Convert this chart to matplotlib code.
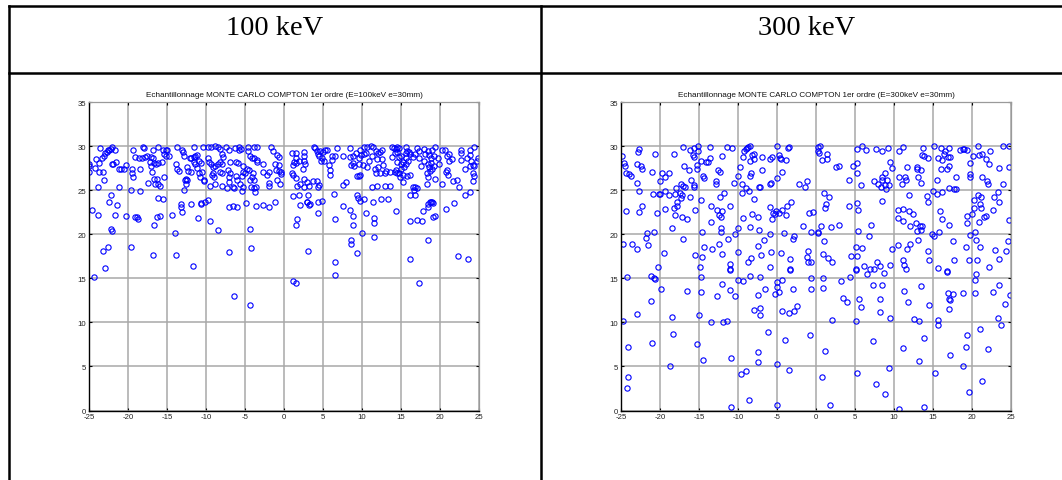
import numpy as np
import matplotlib
matplotlib.use('Agg')
from matplotlib import pyplot as plt

plt.rcParams['axes.unicode_minus'] = False

# points, (x, y) in data units
pts_100_band = [
    (-25.0, 28.0), (-25.0, 27.7), (-25.0, 27.1), (-24.1, 28.5), (-24.2, 27.5), (-23.7, 27.1),
    (-23.25, 27.1), (-23.7, 28.1), (-23.6, 29.8), (-23.3, 28.7), (-23.1, 28.9), (-22.9, 29.2),
    (-22.7, 29.3), (-22.6, 29.5), (-22.4, 29.55), (-22.2, 29.7), (-22.0, 29.9), (-21.7, 29.6),
    (-23.1, 26.15), (-23.8, 25.3), (-21.9, 28.0), (-21.6, 28.2), (-22.05, 28.0), (-21.2, 25.3),
    (-21.2, 27.35), (-20.9, 27.35), (-20.5, 27.4), (-20.3, 27.8), (-19.5, 27.35), (-19.5, 27.0),
    (-19.3, 26.5), (-19.6, 25.0), (-19.3, 29.6), (-19.1, 28.8), (-18.6, 28.6), (-18.2, 28.7),
    (-17.8, 28.8), (-17.6, 28.9), (-18.1, 29.85), (-17.9, 29.8), (-18.4, 27.4), (-18.4, 24.9),
    (-17.4, 25.8), (-16.75, 29.6), (-17.1, 28.8), (-16.8, 28.7), (-17.2, 28.2), (-16.7, 28.1),
    (-16.4, 28.0), (-16.1, 28.1), (-15.7, 28.2), (-16.1, 29.85), (-15.5, 29.6), (-15.1, 29.5),
    (-15.0, 29.6), (-15.4, 29.1), (-15.1, 28.9), (-14.7, 28.9), (-17.1, 27.7), (-16.9, 27.05),
    (-16.7, 26.3), (-16.3, 26.3), (-16.5, 25.7), (-16.1, 25.7), (-15.9, 25.5), (-15.4, 26.45),
    (-13.8, 28.0), (-13.7, 29.9), (-13.7, 27.35), (-13.5, 27.2), (-13.1, 29.55), (-12.9, 29.3),
    (-12.8, 28.9), (-12.5, 27.6), (-12.3, 27.2), (-11.9, 27.05), (-12.6, 26.3), (-12.5, 26.15),
    (-12.7, 26.1), (-12.8, 25.0), (-12.6, 25.7), (-12.05, 28.6), (-11.9, 28.6), (-11.6, 28.8),
    (-11.4, 28.9), (-11.1, 29.0), (-11.6, 28.2), (-11.6, 29.9), (-10.4, 29.9), (-11.4, 28.0),
    (-11.2, 27.5), (-10.9, 28.3), (-10.6, 28.1), (-10.9, 27.0), (-10.5, 27.05), (-10.8, 26.45),
    (-10.3, 26.2), (-10.25, 26.0), (-9.8, 29.9), (-9.3, 29.85), (-8.9, 30.0), (-8.5, 29.85),
    (-8.2, 29.7), (-9.7, 28.6), (-9.6, 28.2), (-9.3, 28.0), (-9.1, 27.6), (-8.8, 27.7),
    (-8.45, 27.96), (-8.2, 28.2), (-8.0, 28.0), (-9.2, 26.7), (-9.0, 26.5), (-9.5, 25.5),
    (-8.8, 25.7), (-9.1, 27.0), (-8.2, 27.05), (-7.95, 27.0), (-7.9, 25.5), (-7.35, 25.2),
    (-7.1, 25.9), (-6.9, 28.2), (-7.1, 29.55), (-7.9, 29.1), (-7.8, 28.8), (-7.5, 29.9),
    (-7.2, 27.3), (-6.9, 27.0), (-7.1, 26.5), (-6.6, 25.4), (-6.4, 25.2), (-5.4, 24.9),
    (-6.25, 29.8), (-5.8, 29.5), (-5.75, 29.85), (-5.55, 29.7), (-5.9, 28.1), (-6.1, 28.2),
    (-5.3, 27.7), (-4.8, 27.4), (-5.2, 27.1), (-5.0, 26.9), (-6.1, 26.6), (-6.0, 26.2),
    (-5.4, 26.6), (-5.7, 25.7), (-5.3, 25.4), (-4.6, 29.9), (-3.8, 29.85), (-3.4, 29.9),
    (-4.6, 29.4), (-4.4, 28.9), (-4.1, 28.7), (-3.9, 28.6), (-3.4, 28.4), (-3.4, 28.2),
    (-4.45, 27.3), (-4.0, 26.9), (-4.1, 26.5), (-4.35, 26.2), (-3.9, 26.1), (-4.2, 25.3),
    (-3.9, 25.25), (-3.6, 25.4), (-3.75, 24.8), (-2.7, 28.0), (-2.7, 27.1), (-2.2, 26.75),
    (-1.95, 27.1), (-1.9, 25.85), (-1.95, 25.5), (-1.7, 29.85), (-1.4, 29.4), (-0.95, 29.0),
    (-0.7, 28.8), (-1.2, 28.0), (-0.7, 27.9), (-1.0, 27.3), (-0.6, 27.2), (-0.4, 27.1),
    (-0.85, 26.2), (-0.5, 25.7), (-0.35, 26.8),
    (1.0, 29.2), (1.6, 29.2), (1.5, 28.7), (1.3, 28.2), (1.1, 27.9), (1.0, 27.0), (1.2, 26.75),
    (1.6, 28.1), (1.9, 28.3), (2.5, 29.3), (2.5, 28.9), (2.5, 28.3), (2.65, 28.0), (2.4, 27.4),
    (1.6, 26.4), (2.5, 26.3), (2.9, 25.9), (1.7, 25.5), (2.1, 25.7), (2.6, 25.4), (3.2, 25.5),
    (3.7, 26.0), (4.2, 26.0), (4.4, 25.4), (4.5, 25.55), (3.8, 29.85), (4.0, 29.8), (4.2, 29.4),
    (4.4, 29.1), (4.5, 28.9), (4.9, 28.6), (4.8, 28.3), (5.1, 28.3), (5.3, 29.5), (5.55, 29.5),
    (4.6, 29.4), (4.95, 29.3), (5.8, 27.9), (5.9, 27.3), (5.9, 26.7), (6.1, 28.9), (6.2, 28.4),
    (6.5, 28.9), (6.8, 29.8), (7.5, 28.9), (7.5, 25.6), (8.0, 25.9), (8.4, 29.8), (8.4, 28.8),
    (8.9, 28.9), (8.6, 27.9), (8.8, 28.1), (8.97, 27.7), (9.2, 29.2), (9.7, 29.6), (10.2, 29.9),
    (10.6, 29.9), (11.2, 29.96), (11.45, 29.9), (9.6, 28.6), (9.9, 29.0), (10.2, 29.1),
    (10.5, 29.25), (10.85, 28.3), (11.3, 28.9), (9.65, 27.96), (10.1, 27.8), (10.7, 27.6),
    (9.3, 26.6), (9.65, 26.6), (9.8, 26.7), (11.3, 25.4), (11.9, 25.5), (11.7, 27.4), (12.05, 27.6),
    (11.8, 27.0), (12.3, 26.9), (12.65, 27.8), (13.1, 27.2), (13.0, 26.9), (13.6, 27.05),
    (11.8, 29.4), (12.05, 29.2), (12.3, 29.3), (12.6, 29.55), (11.9, 28.5), (12.5, 28.5),
    (12.9, 25.5), (13.6, 25.5), (13.85, 29.85), (14.1, 29.8), (14.35, 29.7), (14.5, 29.85),
    (14.8, 29.8), (14.2, 29.25), (14.5, 29.3), (13.9, 28.8), (14.7, 28.8), (15.0, 28.9),
    (14.5, 28.2), (14.96, 27.96), (15.3, 28.2), (15.6, 27.96), (14.4, 27.3), (14.96, 27.4),
    (15.4, 27.6), (14.45, 26.9), (14.2, 27.1), (14.8, 27.0), (14.9, 26.45), (15.3, 26.7),
    (15.8, 26.6), (16.1, 26.75), (15.3, 25.9), (16.5, 25.3), (16.8, 25.4), (17.1, 25.2),
    (16.7, 25.0), (16.15, 24.5), (16.75, 24.4), (15.6, 29.9), (15.8, 29.4), (15.6, 29.2),
    (16.15, 29.1), (15.97, 29.3), (15.6, 28.6), (15.9, 28.3), (17.0, 29.8), (17.3, 29.4),
    (17.3, 28.7), (16.8, 29.1), (16.5, 28.8), (18.3, 25.7), (17.6, 27.7), (18.3, 27.0),
    (18.5, 26.5), (19.0, 27.4), (18.55, 27.6), (19.2, 27.7), (18.7, 27.2), (19.4, 26.3),
    (18.0, 29.7), (18.4, 29.4), (18.1, 29.1), (18.6, 29.0), (19.0, 29.55), (19.3, 29.85),
    (18.8, 28.6), (19.2, 28.9), (19.8, 28.7), (18.4, 28.0), (18.8, 28.1), (18.0, 28.3),
    (19.9, 27.96), (20.3, 29.5), (20.6, 29.5), (20.9, 28.9), (21.2, 29.1), (21.6, 28.5),
    (21.2, 28.3), (20.3, 25.7), (20.8, 27.05), (20.9, 27.3), (21.0, 26.7), (21.7, 26.0),
    (22.2, 26.1), (22.4, 25.3), (23.9, 24.8), (22.65, 29.5), (22.65, 29.2), (23.8, 29.6),
    (24.3, 29.9), (22.7, 28.4), (23.4, 28.7), (23.85, 29.0), (24.0, 28.3), (23.2, 27.4),
    (23.8, 27.7), (24.2, 27.9), (24.4, 27.7), (24.8, 28.3), (24.9, 28.6), (24.2, 27.0),
    (24.3, 26.6), (24.2, 26.0),
]
pts_100_low = [
    (-24.6, 22.7), (-24.4, 15.2), (-23.9, 22.2), (-22.5, 23.7), (-22.2, 24.5), (-22.6, 18.6),
    (-23.2, 18.1), (-23.0, 16.2), (-22.2, 20.6), (-22.05, 20.4), (-21.7, 22.15), (-21.45, 23.3),
    (-20.2, 22.1), (-19.6, 18.6), (-19.1, 22.0), (-18.9, 21.9), (-18.7, 21.7), (-16.1, 24.1),
    (-15.5, 23.96), (-16.7, 21.0), (-16.3, 21.9), (-15.9, 22.1), (-16.8, 17.6), (-13.25, 23.4),
    (-13.25, 23.1), (-13.1, 22.5), (-14.3, 22.2), (-14.0, 20.1), (-13.85, 17.6), (-11.7, 16.4),
    (-11.9, 23.4), (-10.7, 23.5), (-10.6, 23.4), (-11.0, 21.8), (-9.7, 23.9), (-10.1, 23.6),
    (-9.5, 21.5), (-8.4, 20.5), (-7.1, 23.1), (-6.0, 23.1), (-6.6, 23.2), (-7.1, 18.0),
    (-4.9, 23.5), (-3.6, 23.2), (-4.3, 20.6), (-4.2, 18.45), (-2.7, 23.3), (-1.2, 23.6),
    (-1.9, 23.1), (-6.4, 13.0), (-4.3, 12.0), (1.1, 14.7), (1.6, 14.5), (17.3, 14.5),
    (1.1, 24.3), (1.9, 24.5), (3.1, 24.5), (2.9, 23.7), (3.0, 23.6), (3.3, 23.4), (3.25, 23.3),
    (2.05, 23.3), (4.4, 23.7), (4.9, 23.8), (4.3, 22.45), (1.7, 21.7), (1.6, 21.0), (3.1, 18.15),
    (6.4, 24.6), (6.6, 21.7), (6.6, 16.8), (6.5, 15.4), (7.6, 23.2), (8.4, 22.75), (8.9, 22.1),
    (8.8, 21.0), (8.6, 19.4), (8.55, 18.9), (9.3, 17.9), (10.0, 20.1), (11.6, 19.7), (9.4, 24.4),
    (9.5, 24.1), (9.7, 23.8), (10.2, 24.0), (10.5, 22.45), (11.4, 23.6), (11.5, 21.85),
    (11.6, 21.3), (12.4, 24.0), (13.3, 24.0), (14.3, 22.6), (16.2, 21.5), (17.0, 21.6),
    (16.2, 17.2), (17.7, 21.5), (17.8, 22.6), (18.5, 23.05), (18.4, 23.4), (18.7, 23.6),
    (18.9, 23.7), (19.0, 23.6), (19.1, 23.5), (18.5, 19.35), (19.1, 21.9), (19.3, 22.1),
    (20.8, 22.9), (21.8, 23.5), (23.2, 24.4), (22.3, 17.5), (23.6, 17.2),
]

pts_300_top = [
    (-24.9, 28.9), (-24.65, 28.1), (-24.5, 27.7), (-24.3, 26.9), (-24.0, 26.8), (-23.7, 26.6),
    (-22.7, 29.7), (-22.8, 29.3), (-22.9, 28.0), (-22.4, 27.7), (-22.35, 27.4), (-23.0, 25.85),
    (-22.7, 24.9), (-20.6, 29.1), (-21.0, 27.1), (-20.0, 26.0), (-19.7, 26.9), (-19.3, 26.5),
    (-18.9, 26.9), (-20.9, 24.6), (-20.1, 24.6), (-20.0, 24.6), (-19.4, 24.9), (-18.8, 24.45),
    (-18.2, 29.1), (-17.0, 29.9), (-16.1, 29.6), (-15.6, 29.8), (-15.1, 30.0), (-15.1, 29.4),
    (-15.8, 29.0), (-15.7, 28.75), (-16.9, 27.7), (-16.3, 27.3), (-15.3, 27.85), (-15.2, 27.4),
    (-14.7, 28.3), (-13.6, 29.9), (-13.6, 28.6), (-13.9, 28.2), (-14.1, 28.15), (-14.5, 26.6),
    (-14.4, 26.4), (-16.0, 26.2), (-15.7, 25.6), (-15.7, 25.35), (-17.9, 25.2), (-17.3, 25.65),
    (-17.0, 25.5), (-16.8, 25.3), (-18.1, 24.6), (-17.5, 24.7), (-17.2, 24.5), (-16.2, 24.2),
    (-17.8, 23.6), (-17.8, 23.2), (-18.2, 23.0), (-17.3, 24.15), (-19.4, 22.9), (-20.4, 22.4),
    (-22.35, 23.2), (-22.7, 22.5), (-24.4, 22.6), (-18.1, 22.2), (-17.2, 22.0), (-16.5, 21.7),
    (-18.4, 20.7), (-15.5, 22.7), (-14.7, 23.9), (-13.4, 23.2), (-12.7, 22.8), (-12.4, 22.2),
    (-12.2, 21.95), (-12.05, 22.6), (-13.4, 21.4), (-14.65, 20.3), (-12.8, 26.0), (-12.8, 25.65),
    (-12.6, 27.25), (-12.3, 27.1), (-12.0, 28.9), (-11.8, 24.7), (-12.35, 24.2), (-11.4, 29.9),
    (-10.8, 29.8), (-11.0, 23.2), (-12.2, 20.7), (-12.2, 20.3), (-10.5, 25.8), (-10.0, 26.6),
    (-9.7, 27.6), (-9.5, 25.7), (-9.4, 28.75), (-9.2, 29.4), (-9.0, 29.7), (-8.8, 29.8),
    (-8.7, 29.9), (-8.5, 29.96), (-8.25, 29.0), (-8.0, 29.1), (-8.5, 28.3), (-8.0, 28.5),
    (-9.5, 24.7), (-9.0, 25.2), (-8.6, 24.9), (-8.5, 26.6), (-8.3, 26.9), (-8.0, 24.0),
    (-9.3, 21.8), (-8.2, 22.3), (-7.5, 21.9), (-8.5, 20.8), (-7.3, 20.45), (-6.95, 27.25),
    (-6.9, 28.8), (-7.3, 25.4), (-7.2, 25.3), (-5.9, 25.65), (-5.8, 25.85), (-5.9, 28.5),
    (-5.7, 28.8), (-5.0, 29.96), (-4.8, 29.0), (-4.6, 28.7), (-4.5, 28.5), (-3.8, 28.4),
    (-3.6, 29.8), (-3.5, 29.9), (-4.3, 27.1), (-5.0, 26.4), (-5.9, 23.1), (-5.5, 22.45),
    (-5.3, 22.3), (-5.1, 22.6), (-4.7, 22.4), (-4.4, 22.7), (-3.8, 22.2), (-3.7, 23.2),
    (-3.2, 23.7), (-5.6, 21.7), (-5.9, 20.0), (-6.7, 19.3), (-7.4, 18.7), (-4.1, 20.15),
    (-2.8, 19.8), (-3.0, 19.5), (-1.7, 20.9), (-0.9, 22.4), (-0.4, 22.5), (-0.7, 20.2),
    (0.2, 20.15), (-2.2, 25.7), (-1.45, 25.4), (-1.2, 26.0), (0.4, 29.2), (0.2, 29.9),
    (-21.7, 20.15), (-21.8, 19.6), (-21.6, 18.8), (-20.8, 20.2), (-24.7, 18.9), (-23.6, 18.9),
    (-23.0, 18.3), (-19.5, 17.9), (-17.0, 19.5), (-15.5, 17.6), (-14.6, 17.4), (-14.35, 18.5),
    (-13.3, 18.3), (-12.5, 18.9), (-12.0, 17.7), (-11.3, 19.5), (-10.4, 20.0), (-10.0, 20.75),
    (-11.0, 16.6), (-11.0, 16.0), (-10.05, 18.0), (-8.7, 16.9), (-8.3, 17.3), (-7.05, 17.65),
    (-5.8, 18.0), (-5.9, 16.3), (-4.5, 17.9), (-3.3, 17.2), (-3.3, 16.1), (-1.0, 18.1),
    (-1.1, 17.4), (-1.0, 16.9), (-0.7, 16.9), (-20.3, 16.3), (-14.9, 16.3),
    (0.47, 29.96), (0.3, 29.4), (1.4, 29.1), (0.8, 28.45), (1.4, 28.5), (2.5, 27.6), (2.9, 27.7),
    (4.2, 26.15), (5.2, 29.7), (5.85, 29.96), (6.45, 29.6), (5.3, 28.1), (4.8, 27.7), (5.3, 26.9),
    (5.8, 25.6), (7.65, 29.7), (8.4, 29.4), (9.2, 29.8), (9.5, 28.15), (9.8, 27.55), (7.4, 26.0),
    (7.9, 25.7), (8.3, 25.4), (8.5, 26.5), (8.85, 26.9), (8.5, 26.2), (9.1, 26.1), (8.9, 25.6),
    (9.4, 25.6), (9.0, 25.1), (8.4, 23.8), (7.1, 21.1), (10.6, 29.4), (11.2, 29.9), (11.7, 27.6),
    (10.6, 26.5), (11.4, 26.5), (11.5, 26.1), (11.0, 25.65), (11.9, 24.4), (12.9, 27.6),
    (13.0, 27.4), (13.5, 27.3), (13.1, 26.5), (13.5, 25.8), (13.7, 29.8), (13.6, 29.0),
    (13.9, 28.9), (14.4, 28.6), (15.1, 29.96), (16.0, 29.8), (17.1, 29.8), (15.6, 28.7),
    (16.1, 28.45), (16.4, 29.1), (16.9, 28.8), (17.2, 28.8), (16.5, 29.4), (16.0, 27.4),
    (16.8, 27.4), (17.05, 27.7), (15.5, 26.1), (18.0, 26.5), (15.0, 24.9), (15.5, 24.55),
    (16.2, 24.8), (17.1, 25.2), (17.7, 25.1), (18.0, 25.1), (14.2, 24.3), (14.3, 23.6),
    (15.9, 22.6), (16.1, 21.7), (17.1, 21.1), (18.4, 29.5), (18.8, 29.7), (19.0, 29.7),
    (19.4, 29.6), (20.8, 29.96), (22.3, 29.4), (20.1, 28.9), (20.9, 29.0), (21.3, 29.1),
    (19.7, 28.1), (21.75, 28.5), (22.2, 28.0), (19.8, 26.8), (19.8, 26.5), (21.3, 26.5),
    (21.9, 26.0), (22.1, 25.7), (23.5, 27.5), (24.7, 27.6), (24.0, 29.96), (24.7, 29.96),
    (24.0, 25.7), (23.3, 24.8), (22.8, 24.2), (23.5, 23.6), (20.8, 24.45), (21.1, 24.2),
    (20.2, 23.9), (21.0, 23.4), (20.3, 23.0), (21.1, 22.95), (22.7, 22.8), (20.0, 22.3),
    (19.4, 22.1), (21.5, 22.0), (21.75, 22.1), (20.9, 21.4), (19.4, 21.3), (24.7, 21.6),
    (10.55, 22.7), (11.2, 22.85), (11.9, 22.6), (12.4, 22.3), (10.55, 21.8), (11.2, 21.55),
    (12.8, 21.3), (12.1, 20.9), (13.3, 20.9), (13.6, 20.9), (12.95, 20.4), (13.5, 20.5),
    (13.1, 19.4), (12.0, 18.9), (11.7, 18.3), (10.55, 18.8), (9.7, 18.3), (9.5, 16.5),
    (11.15, 17.1), (11.3, 16.5), (11.5, 16.1), (14.4, 18.1), (14.5, 17.1), (14.9, 20.0),
    (15.1, 19.85), (15.8, 20.3), (17.5, 19.2), (17.7, 17.1), (19.2, 18.5), (19.8, 19.9),
    (20.4, 20.3), (20.5, 19.3), (21.0, 18.5), (19.6, 17.1), (20.6, 17.1), (22.95, 18.2),
    (23.5, 17.2), (24.3, 18.05), (24.6, 19.2), (22.2, 16.3), (15.7, 16.2), (16.8, 15.8),
    (1.07, 24.7), (1.7, 24.2), (1.3, 23.4), (1.15, 23.0), (0.7, 20.9), (1.9, 20.8), (2.9, 21.0),
    (0.2, 20.2), (1.07, 19.2), (0.9, 17.8), (1.6, 17.3), (2.0, 16.8), (4.2, 23.2), (5.3, 23.55),
    (5.35, 22.7), (5.35, 20.4), (6.8, 19.8), (4.5, 17.5), (5.2, 17.5), (5.1, 18.5), (5.85, 18.4),
    (6.2, 16.4), (5.1, 16.0), (7.8, 16.9), (8.25, 16.4), (6.9, 16.1), (7.4, 16.0),
]
pts_300_low = [
    (-24.2, 15.1), (-21.1, 15.3), (-20.8, 15.0), (-20.6, 14.96), (-19.9, 13.8), (-21.2, 12.4),
    (-22.9, 11.0), (-24.8, 10.2), (-24.1, 7.2), (-24.1, 3.85), (-24.2, 2.6), (-21.0, 7.7),
    (-18.5, 10.6), (-18.3, 8.7), (-18.75, 5.0), (-16.5, 13.6), (-14.7, 15.1), (-14.7, 13.4),
    (-15.0, 10.8), (-15.2, 7.5), (-14.5, 5.7), (-13.4, 10.05), (-12.7, 13.0), (-12.1, 14.4),
    (-11.9, 10.0), (-11.4, 10.2), (-11.0, 15.9), (-11.0, 13.7), (-10.9, 6.0), (-10.9, 0.4),
    (-10.4, 13.0), (-10.0, 14.8), (-9.4, 14.7), (-9.6, 4.1), (-9.0, 4.5), (-8.6, 1.2),
    (-8.5, 15.3), (-8.0, 11.4), (-7.2, 15.2), (-7.4, 13.1), (-7.2, 11.6), (-7.2, 10.8),
    (-6.6, 13.75), (-7.4, 6.6), (-7.4, 5.55), (-6.1, 8.9), (-5.3, 13.2), (-5.0, 14.6),
    (-5.0, 14.0), (-4.7, 13.4), (-4.4, 14.8), (-5.0, 5.3), (-5.0, 0.65), (-4.4, 11.3),
    (-4.0, 8.05), (-3.5, 11.1), (-3.5, 4.6), (-3.3, 15.9), (-3.0, 13.8), (-2.8, 11.3),
    (-2.4, 11.8), (-0.8, 8.6), (-0.7, 13.75), (-0.6, 15.0), (0.9, 13.9), (0.95, 15.0),
    (0.8, 3.8), (1.2, 6.8), (1.8, 0.65), (2.05, 10.3), (3.25, 14.7), (3.4, 12.8), (4.0, 12.35),
    (4.4, 15.2), (5.1, 15.9), (5.1, 10.2), (5.2, 4.3), (5.5, 12.65), (5.8, 11.7), (6.6, 15.5),
    (7.3, 14.2), (7.3, 7.9), (7.7, 3.0), (8.2, 12.7), (8.2, 11.2), (8.4, 14.2), (8.7, 15.6),
    (8.9, 1.9), (9.5, 10.5), (9.4, 4.8), (10.6, 0.2), (11.3, 13.6), (11.2, 7.1), (11.8, 12.35),
    (12.5, 10.4), (13.2, 10.1), (13.4, 14.1), (13.2, 5.6), (13.8, 8.2), (13.9, 0.4),
    (14.5, 12.0), (15.2, 4.3), (15.6, 9.7), (15.7, 10.3), (16.8, 15.75), (16.9, 13.3),
    (17.0, 12.65), (17.2, 12.5), (17.5, 13.2), (17.0, 11.5), (17.2, 6.3), (18.9, 13.3),
    (18.9, 5.1), (19.2, 7.2), (19.4, 8.6), (19.6, 2.1), (20.4, 14.8), (20.5, 15.5), (20.35, 13.3),
    (21.0, 9.2), (21.3, 3.3), (22.1, 6.95), (22.7, 13.5), (23.4, 14.2), (23.3, 10.5),
    (23.7, 9.7), (24.2, 12.1), (24.9, 13.1),
]

headers = ['100 keV', '300 keV']
titles = ['Echantillonnage MONTE CARLO COMPTON 1er ordre (E=100keV e=30mm)',
          'Echantillonnage MONTE CARLO COMPTON 1er ordre (E=300keV e=30mm)']
xticks = np.arange(-25, 26, 5)
yticks = np.arange(0, 36, 5)

W, H = 1062, 481
fig = plt.figure(figsize=(W / 100, H / 100), dpi=100)

# table frame drawn in pixel coordinates
frame = fig.add_axes([0, 0, 1, 1])
frame.set_xlim(0, W)
frame.set_ylim(H, 0)
frame.axis('off')
lw = 1.8
frame.plot([8.7, W], [6.7, 6.7], color='black', lw=lw)
frame.plot([8.7, W], [73.5, 73.5], color='black', lw=lw)
frame.plot([8.7, 8.7], [6.7, H], color='black', lw=lw)
frame.plot([541, 541], [6.7, H], color='black', lw=lw)
for cx, txt in zip([275, 807], headers):
    frame.text(cx, 35, txt, ha='center', va='baseline', fontsize=20.5,
               family='Liberation Serif', color='black')

panels = [
    (89, pts_100_band + pts_100_low, titles[0]),
    (621, pts_300_top + pts_300_low, titles[1]),
]
for left, pts, title in panels:
    ax = fig.add_axes([left / W, (H - 411.5) / H, 390 / W, 308.5 / H])
    p = np.array(pts)
    ax.plot(p[:, 0], p[:, 1], 'o', mfc='none', mec='#0000ff', ms=3.8, mew=0.8)
    ax.set_xlim(-25, 25)
    ax.set_ylim(0, 35)
    ax.set_xticks(xticks)
    ax.set_yticks(yticks)
    ax.grid(True, color='#a8a8a8', lw=1.1)
    ax.set_axisbelow(True)
    ax.tick_params(direction='in', top=True, right=True, length=2.5, width=0.8,
                   labelsize=5.6, pad=2, colors='black', labelcolor='#222222')
    for tl in ax.get_xticklabels() + ax.get_yticklabels():
        tl.set_family('Liberation Sans')
    for s in ['top', 'right']:
        ax.spines[s].set_color('#9a9a9a')
        ax.spines[s].set_linewidth(0.9)
    for s in ['bottom', 'left']:
        ax.spines[s].set_color('black')
        ax.spines[s].set_linewidth(1.0)
    ax.set_title(title, fontsize=5.9, family='Liberation Sans', pad=4, color='#111111')

fig.savefig('out.png', dpi=100)
